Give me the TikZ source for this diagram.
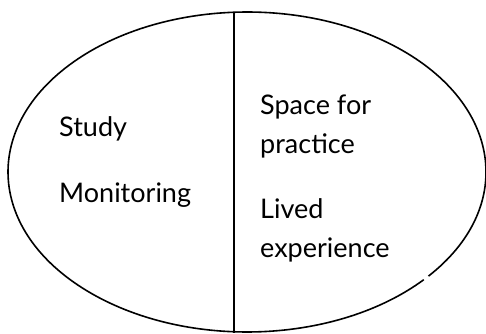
\documentclass[tikz,border=0pt]{standalone}
\usepackage{fontspec}
\setmainfont{Lato}
\begin{document}
\begin{tikzpicture}[x=1pt,y=1pt,
  outline/.style={line width=1.6pt,black},
  label/.style={anchor=base west,inner sep=0pt,font=\fontsize{27}{39}\selectfont}]
\useasboundingbox (0,0) rectangle (486,333);
% oval, drawn as one arc with a small break at the lower right
\draw[outline] (247,161) ++(-40.6:239 and 160) arc[start angle=-40.6,end angle=317.7,x radius=239,y radius=160];
% dividing line
\coordinate (top) at (234,320);
\coordinate (bottom) at (234,0);
\draw[outline] (top) -- (bottom);
% left half
\node[label] (study) at (59,197) {Study};
\node[label] (monitoring) at (59,131) {Monitoring};
% right half
\node[label] (space) at (260,219) {Space for};
\node[label] (practice) at (260,180) {practice};
\node[label] (lived) at (260,115) {Lived};
\node[label] (experience) at (260,76) {experience};
\end{tikzpicture}
\end{document}
